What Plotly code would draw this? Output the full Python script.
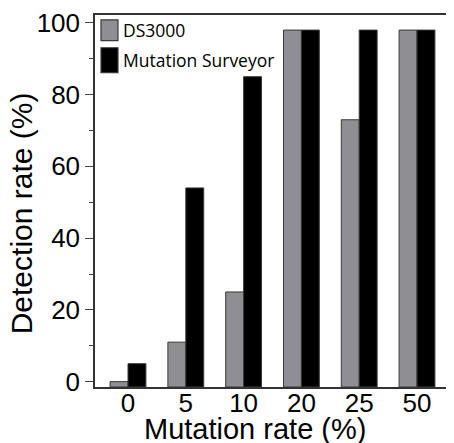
import plotly.graph_objects as go

categories = ["0", "5", "10", "20", "25", "50"]
series_names = ["DS3000", "Mutation Surveyor"]
ds3000 = [0, 11, 25, 98, 73, 98]
mutation_surveyor = [5, 54, 85, 98, 98, 98]
y_ticks = [0, 20, 40, 60, 80, 100]

Y_MIN, Y_MAX = -1.5, 102.2
colors = ["#8e8e93", "#000000"]
outline = "#3a3a3a"

fig = go.Figure()
for name, vals, col in zip(series_names, [ds3000, mutation_surveyor], colors):
    fig.add_trace(go.Bar(
        x=categories, y=[v - Y_MIN for v in vals], base=Y_MIN, name=name,
        marker=dict(color=col, line=dict(color=outline, width=1)),
        showlegend=False, customdata=vals,
        hovertemplate="%{x}: %{customdata}<extra>" + name + "</extra>",
    ))

font_main = "Liberation Sans, Arial, Helvetica, sans-serif"
# page body has an 8px margin, so the figure is sized/offset to compensate
fig.update_layout(
    width=446, height=435,
    margin=dict(l=87, r=0, t=4, b=56),
    paper_bgcolor="white", plot_bgcolor="white",
    barmode="group", bargap=0.38, bargroupgap=0,
    font=dict(family=font_main, color="#000"),
    xaxis=dict(
        type="category", range=[-0.571, 5.64],
        showline=True, mirror=True, linecolor="#333", linewidth=1.5,
        ticks="", showgrid=False, tickfont=dict(size=26, family=font_main),
        ticklabelstandoff=-8, ticklabeloverflow="allow",
    ),
    yaxis=dict(
        range=[Y_MIN, Y_MAX], tickvals=y_ticks,
        showline=True, linecolor="#333", linewidth=1.5,
        ticks="outside", ticklen=8, tickwidth=1.2, tickcolor="#444",
        minor=dict(dtick=10, tick0=0, ticks="outside", ticklen=4, tickwidth=1.2, tickcolor="#444"),
        showgrid=False, zeroline=False, tickfont=dict(size=26, family=font_main),
        ticklabeloverflow="allow",
    ),
)

# axis titles
fig.add_annotation(text="Mutation rate (%)", xref="paper", yref="paper",
                   x=0.446, y=-0.112, xanchor="center", yanchor="middle",
                   showarrow=False, font=dict(size=29, family=font_main))
fig.add_annotation(text="Detection rate (%)", xref="paper", yref="paper",
                   x=-0.206, y=0.467, xanchor="center", yanchor="middle", textangle=-90,
                   showarrow=False, font=dict(size=30, family=font_main))

# legend (drawn manually to match tall swatches)
legend_rows = [(0.931, 0.987, 0.960), (0.845, 0.912, 0.878)]
for (y0, y1, yt), name, col in zip(legend_rows, series_names, colors):
    fig.add_shape(type="rect", xref="paper", yref="paper",
                  x0=0.0167, x1=0.064, y0=y0, y1=y1,
                  fillcolor=col, line=dict(color=outline, width=1.2))
    fig.add_annotation(text=name, xref="paper", yref="paper", x=0.0724, y=yt,
                       xanchor="left", yanchor="middle", showarrow=False,
                       font=dict(size=17.5, family="Open Sans, sans-serif"))

fig.write_html("out.html")
